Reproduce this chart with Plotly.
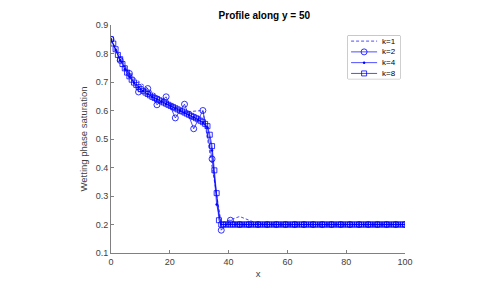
import numpy as np
import plotly.graph_objects as go

# ---- data ----
k1_vals = [0.850, 0.728, 0.677, 0.630, 0.595, 0.600, 0.205, 0.228, 0.203,
           0.200, 0.200, 0.200, 0.200, 0.200, 0.200, 0.200, 0.200]

k2_vals = [0.850, 0.776, 0.730, 0.665, 0.677, 0.620, 0.648, 0.574, 0.622, 0.536,
           0.600, 0.430, 0.180, 0.215,
           0.200, 0.200, 0.200, 0.200, 0.200, 0.200, 0.200, 0.200, 0.200, 0.200,
           0.200, 0.200, 0.200, 0.200, 0.200, 0.200, 0.200, 0.200, 0.200]

k4_vals = [0.850, 0.812, 0.776, 0.745, 0.718, 0.697, 0.681, 0.668, 0.657, 0.647,
           0.639, 0.631, 0.623, 0.615, 0.607, 0.599, 0.592, 0.584, 0.576, 0.568,
           0.557, 0.540, 0.460, 0.270, 0.200,
           0.200, 0.200, 0.200, 0.200, 0.200, 0.200, 0.200, 0.200, 0.200, 0.200,
           0.200, 0.200, 0.200, 0.200, 0.200, 0.200, 0.200, 0.200, 0.200, 0.200,
           0.200, 0.200, 0.200, 0.200, 0.200, 0.200, 0.200, 0.200, 0.200, 0.200,
           0.200, 0.200, 0.200, 0.200, 0.200, 0.200, 0.200, 0.200, 0.200, 0.200]

k8_vals = [0.850, 0.835, 0.815, 0.795, 0.780, 0.763, 0.748, 0.733, 0.720, 0.708,
           0.698, 0.690, 0.682, 0.675, 0.669, 0.663, 0.658, 0.653, 0.648, 0.644,
           0.640, 0.636, 0.632, 0.628, 0.624, 0.620, 0.616, 0.612, 0.608, 0.604,
           0.600, 0.597, 0.593, 0.589, 0.585, 0.581, 0.577, 0.573, 0.569, 0.564,
           0.559, 0.553, 0.545, 0.515, 0.475, 0.390, 0.310, 0.215, 0.200,
           0.200, 0.200, 0.200, 0.200, 0.200, 0.200, 0.200, 0.200, 0.200, 0.200,
           0.200, 0.200, 0.200, 0.200, 0.200, 0.200, 0.200, 0.200, 0.200, 0.200,
           0.200, 0.200, 0.200, 0.200, 0.200, 0.200, 0.200, 0.200, 0.200, 0.200,
           0.200, 0.200, 0.200, 0.200, 0.200, 0.200, 0.200, 0.200, 0.200, 0.200,
           0.200, 0.200, 0.200, 0.200, 0.200, 0.200, 0.200, 0.200, 0.200, 0.200,
           0.200, 0.200, 0.200, 0.200, 0.200, 0.200, 0.200, 0.200, 0.200, 0.200,
           0.200, 0.200, 0.200, 0.200, 0.200, 0.200, 0.200, 0.200, 0.200, 0.200,
           0.200, 0.200, 0.200, 0.200, 0.200, 0.200, 0.200, 0.200, 0.200, 0.200]

series_names = ["k=1", "k=2", "k=4", "k=8"]
x_ticks = [0, 20, 40, 60, 80, 100]
y_ticks = [0.1, 0.2, 0.3, 0.4, 0.5, 0.6, 0.7, 0.8, 0.9]
y_tick_labels = ["0.1", "0.2", "0.3", "0.4", "0.5", "0.6", "0.7", "0.8", "0.9"]


def grid(vals):
    return np.linspace(0, 100, len(vals))


BLUE = "#0000ff"
FONT = "Liberation Sans, Arial, sans-serif"

styles = [
    dict(mode="lines", line=dict(color=BLUE, width=0.7, dash="3px,2px")),
    dict(mode="lines+markers", line=dict(color=BLUE, width=0.7),
         marker=dict(symbol="circle-open", size=6, color=BLUE,
                     line=dict(width=0.8, color=BLUE))),
    dict(mode="lines+markers", line=dict(color=BLUE, width=0.7),
         marker=dict(symbol="circle", size=2.5, color=BLUE)),
    dict(mode="lines+markers", line=dict(color=BLUE, width=0.7),
         marker=dict(symbol="square-open", size=5, color=BLUE,
                     line=dict(width=0.8, color=BLUE))),
]

fig = go.Figure()
for name, vals, st in zip(series_names, [k1_vals, k2_vals, k4_vals, k8_vals], styles):
    fig.add_trace(go.Scatter(x=grid(vals), y=vals, name=name, showlegend=False, **st))

# ---- compact MATLAB-like legend (overlay axes in the legend box) ----
leg_y = [3.5, 2.5, 1.5, 0.5]
for name, st, ly in zip(series_names, styles, leg_y):
    fig.add_trace(go.Scatter(x=[0.06, 0.56], y=[ly, ly], mode="lines",
                             line=st["line"], xaxis="x2", yaxis="y2",
                             showlegend=False, hoverinfo="skip"))
    if "marker" in st:
        fig.add_trace(go.Scatter(x=[0.31], y=[ly], mode="markers",
                                 marker=st["marker"], xaxis="x2", yaxis="y2",
                                 showlegend=False, hoverinfo="skip"))
    fig.add_annotation(x=0.62, y=ly, xref="x2", yref="y2", text=name,
                       showarrow=False, xanchor="left", yanchor="middle",
                       font=dict(family=FONT, size=8, color="#000000"))

axis_common = dict(showline=True, linecolor="#808080", linewidth=1,
                   ticks="inside", ticklen=3, tickcolor="#808080",
                   showgrid=False, zeroline=False, mirror=False,
                   tickfont=dict(family=FONT, size=9, color="#404040"))

# plot area in screen px: x 111..405, y 20..253 (page has 8px body margin)
fig.update_layout(
    width=477, height=295,
    margin=dict(l=103, r=80, t=12, b=50),
    paper_bgcolor="white", plot_bgcolor="white",
    title=dict(text="<b>Profile along y = 50</b>", x=0.5373, xanchor="center",
               y=0.976, yanchor="middle",
               font=dict(family=FONT, size=10, color="#000000")),
    xaxis=dict(range=[0, 100], tickvals=x_ticks,
               title=dict(text="x", standoff=4,
                          font=dict(family=FONT, size=9.5, color="#404040")),
               **axis_common),
    yaxis=dict(range=[0.1, 0.9], tickvals=y_ticks, ticktext=y_tick_labels,
               title=dict(text="Wetting phase saturation", standoff=6,
                          font=dict(family=FONT, size=9.5, color="#404040")),
               **axis_common),
    xaxis2=dict(domain=[0.806, 0.983], range=[0, 1], anchor="y2",
                visible=False, fixedrange=True),
    yaxis2=dict(domain=[0.764, 0.953], range=[0, 4], anchor="x2",
                visible=False, fixedrange=True),
    shapes=[dict(type="rect", xref="x2 domain", yref="y2 domain",
                 x0=0, x1=1, y0=0, y1=1,
                 line=dict(color="#a0a0a0", width=1), fillcolor="white",
                 layer="below")],
    showlegend=False,
)

fig.write_html("out.html")
